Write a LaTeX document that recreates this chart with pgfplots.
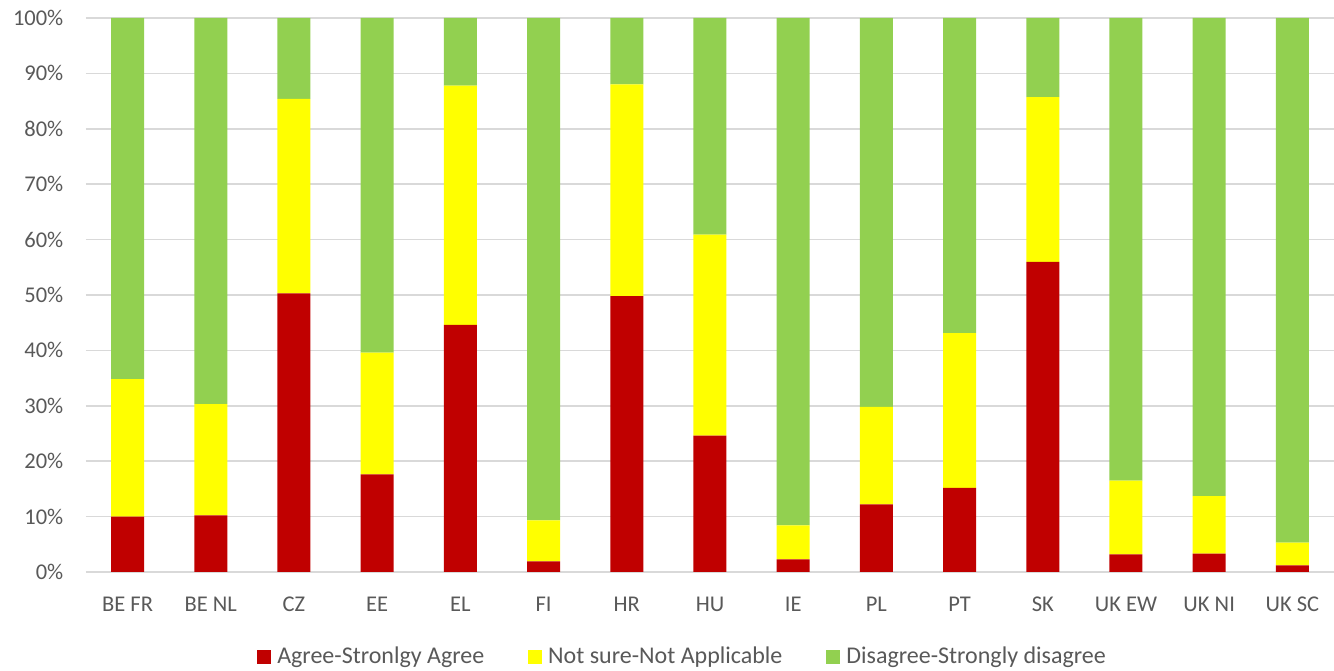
\documentclass[border=0pt]{standalone}
\usepackage{pgfplots}
\pgfplotsset{compat=1.18}
\usepackage{fontspec}
\setmainfont{Carlito}
\definecolor{cred}{HTML}{C00000}
\definecolor{cyel}{HTML}{FFFF00}
\definecolor{cgrn}{HTML}{92D050}
\definecolor{cgrid}{HTML}{D9D9D9}
\definecolor{ctext}{HTML}{595959}
\begin{document}
\fontsize{22.5}{27}\selectfont
\begin{tikzpicture}
\useasboundingbox (-86pt,-99pt) rectangle (1248pt,572pt);
\begin{axis}[
  at={(0,0)}, anchor=south west,
  scale only axis, width=1248pt, height=554pt,
  ybar stacked, bar width=33pt,
  xmin=-0.5, xmax=14.5, ymin=0, ymax=100,
  xtick={0,...,14},
  xticklabels={BE FR,BE NL,CZ,EE,EL,FI,HR,HU,IE,PL,PT,SK,UK EW,UK NI,UK SC},
  ytick={0,10,...,100},
  yticklabel={\pgfmathprintnumber{\tick}\%},
  /pgf/number format/assume math mode=true,
  ymajorgrids, grid style={cgrid, line width=1.5pt},
  axis line style={draw=none},
  axis x line*=bottom, axis y line*=left,
  major tick length=0pt,
  tick label style={text=ctext, font=\fontsize{22.5}{27}\selectfont},
  xticklabel style={yshift=-17pt},
  yticklabel style={xshift=-15pt},
  every axis plot/.append style={draw=none},
  legend image code/.code={\fill[#1,draw=none] (0pt,-7pt) rectangle (14pt,7pt);},
  legend style={at={(0.478,-0.153)}, anchor=center, draw=none, legend columns=3,
    font=\fontsize{24}{28}\selectfont, text=ctext,
    /tikz/every odd column/.append style={column sep=4pt},
    /tikz/every even column/.append style={column sep=42pt},
    legend cell align=left},
  clip=false,
]
\addplot[fill=cred] coordinates {(0,10.0) (1,10.2) (2,50.3) (3,17.6) (4,44.6) (5,1.9) (6,49.8) (7,24.6) (8,2.3) (9,12.2) (10,15.2) (11,56.0) (12,3.2) (13,3.3) (14,1.2)};
\addplot[fill=cyel] coordinates {(0,24.8) (1,20.1) (2,35.1) (3,22.0) (4,43.2) (5,7.4) (6,38.2) (7,36.3) (8,6.1) (9,17.6) (10,27.9) (11,29.7) (12,13.3) (13,10.4) (14,4.1)};
\addplot[fill=cgrn] coordinates {(0,65.2) (1,69.7) (2,14.6) (3,60.4) (4,12.2) (5,90.7) (6,12.0) (7,39.1) (8,91.6) (9,70.2) (10,56.9) (11,14.3) (12,83.5) (13,86.3) (14,94.7)};
\draw[cgrid, line width=1.5pt] (axis cs:-0.5,0) -- (axis cs:14.5,0);
\legend{Agree-Stronlgy Agree,Not sure-Not Applicable,Disagree-Strongly disagree}
\end{axis}
\end{tikzpicture}
\end{document}
